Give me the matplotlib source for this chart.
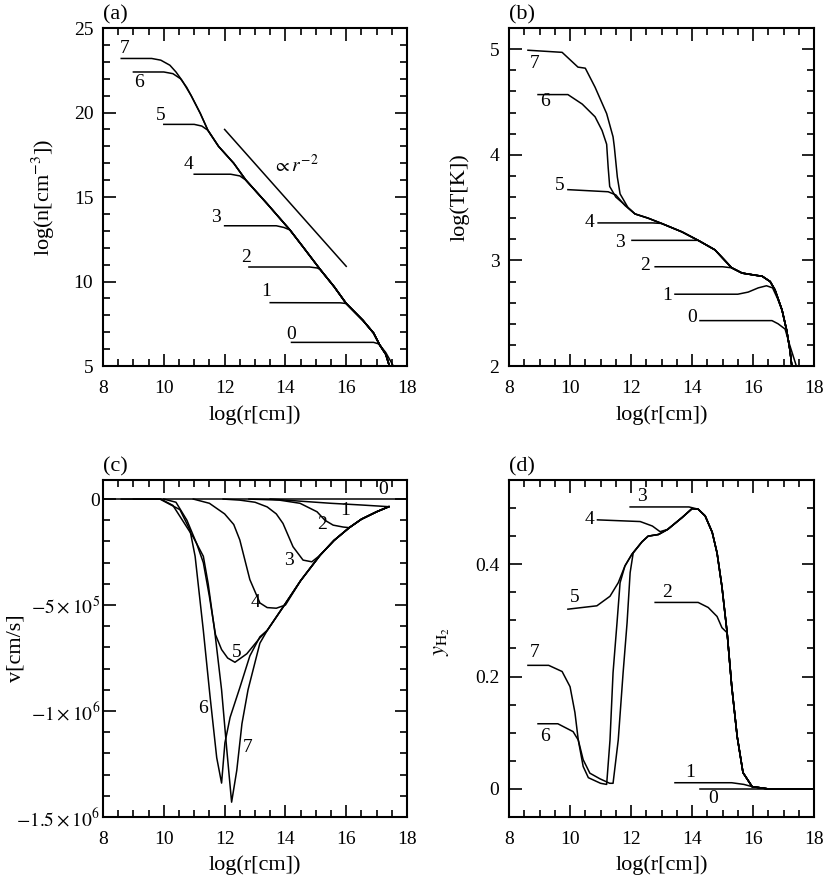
import matplotlib
matplotlib.use("Agg")
import numpy as np
import matplotlib.pyplot as plt
from matplotlib.ticker import MultipleLocator, FixedLocator, FixedFormatter

plt.rcParams["font.family"] = ["Liberation Serif", "DejaVu Serif"]
plt.rcParams["mathtext.fontset"] = "stix"

# ==================== 数据：图 (a) log n ====================
ENV_A_X = [10.6, 10.9, 11.2, 11.45, 11.8, 12.3, 12.7, 13.4, 14.15, 14.6, 15.15, 15.6, 16.0, 16.55, 16.9, 17.1, 17.3, 17.42]
ENV_A_Y = [21.9, 21.0, 19.95, 18.95, 18.0, 17.0, 16.0, 14.6, 13.05, 12.0, 10.7, 9.7, 8.7, 7.7, 6.95, 6.25, 5.7, 5.0]

A_HEAD = {
    7: ([8.6, 9.6, 9.9, 10.2, 10.4], [23.2, 23.2, 23.1, 22.8, 22.4]),
    6: ([9.0, 10.0, 10.3, 10.55, 10.75], [22.4, 22.4, 22.3, 22.0, 21.5]),
    5: ([10.0, 11.0, 11.25], [19.3, 19.3, 19.2]),
    4: ([11.0, 12.2, 12.5], [16.35, 16.35, 16.25]),
    3: ([12.0, 13.7, 13.95], [13.3, 13.3, 13.2]),
    2: ([12.8, 14.8, 15.05], [10.86, 10.86, 10.8]),
    1: ([13.5, 15.8], [8.75, 8.74]),
    0: ([14.2, 16.9, 17.05], [6.4, 6.4, 6.32]),
}
A_JOIN = {7: 10.6, 6: 10.9, 5: 11.45, 4: 12.7, 3: 14.15, 2: 15.15, 1: 16.0, 0: 17.1}
A_TAIL0 = ([17.3, 17.55], [5.8, 5.0])
REF_X = [12.0, 16.0]
REF_Y = [19.0, 10.9]
A_LABEL_POS = {7: (8.7, 23.8), 6: (9.2, 21.8), 5: (9.9, 19.85), 4: (10.8, 16.9),
               3: (11.7, 13.8), 2: (12.7, 11.4), 1: (13.35, 9.4), 0: (14.2, 6.85)}

# ==================== 数据：图 (b) log T ====================
ENV_B_X = [11.9, 12.13, 12.56, 13.0, 13.67, 14.2, 14.75, 15.3, 15.64, 16.07, 16.3, 16.56, 16.72, 16.95, 17.1, 17.21, 17.27]
ENV_B_Y = [3.5, 3.44, 3.40, 3.35, 3.27, 3.19, 3.10, 2.93, 2.88, 2.86, 2.85, 2.80, 2.72, 2.53, 2.34, 2.15, 2.0]

B_HEAD = {
    7: ([8.62, 9.74, 10.0, 10.26, 10.5, 10.82, 11.2, 11.41, 11.45, 11.55, 11.64, 11.9],
        [4.99, 4.97, 4.9, 4.83, 4.82, 4.64, 4.39, 4.17, 4.08, 3.79, 3.63, 3.5]),
    6: ([8.95, 9.93, 10.4, 10.82, 11.05, 11.2, 11.25, 11.3, 11.5, 11.9],
        [4.57, 4.57, 4.48, 4.36, 4.23, 4.1, 3.88, 3.7, 3.6, 3.5]),
    5: ([9.93, 11.25, 11.5, 11.8], [3.67, 3.65, 3.62, 3.52]),
    4: ([10.92, 12.7], [3.355, 3.355]),
    3: ([12.03, 13.9], [3.19, 3.19]),
    2: ([12.79, 15.0], [2.94, 2.94]),
    1: ([13.44, 15.5, 15.84, 16.17, 16.44, 16.64, 16.8], [2.68, 2.68, 2.70, 2.74, 2.76, 2.74, 2.64]),
    0: ([14.26, 16.62, 16.82, 17.05, 17.2, 17.42], [2.43, 2.43, 2.40, 2.35, 2.2, 2.0]),
}
B_JOIN = {7: 12.13, 6: 12.13, 5: 12.13, 4: 13.0, 3: 14.2, 2: 15.3, 1: 16.95, 0: None}
B_LABEL_POS = {7: (8.85, 4.86), 6: (9.18, 4.5), 5: (9.67, 3.71), 4: (10.65, 3.36),
               3: (11.64, 3.17), 2: (12.46, 2.95), 1: (13.2, 2.67), 0: (14.0, 2.46)}

# ==================== 数据：图 (c) v，单位 1e5 cm/s ====================
V_UNIT = 1e5
ENV_C_X = [13.16, 13.4, 13.92, 14.5, 15.14, 15.6, 16.1, 16.5, 17.0, 17.4]
ENV_C_Y = [-6.6, -6.2, -5.1, -3.85, -2.65, -1.95, -1.35, -0.95, -0.6, -0.36]

C_HEAD = {
    7: ([8.6, 9.9, 10.3, 10.97, 11.3, 11.46, 11.68, 11.9, 12.07, 12.23, 12.4, 12.57, 12.77, 13.16],
        [0, 0, -0.3, -1.8, -2.7, -4.0, -6.3, -9.0, -11.8, -14.3, -12.8, -10.6, -9.0, -6.8]),
    6: ([9.0, 9.87, 10.53, 10.86, 11.03, 11.13, 11.3, 11.52, 11.74, 11.9, 12.01, 12.18, 12.5, 12.83, 13.16],
        [0, 0, -0.5, -1.46, -2.7, -4.0, -6.2, -9.3, -12.2, -13.4, -11.5, -10.3, -8.9, -7.4, -6.5]),
    5: ([10.0, 10.4, 10.76, 11.08, 11.3, 11.5, 11.7, 11.9, 12.1, 12.34, 12.73, 13.16],
        [0, -0.15, -1.0, -2.1, -3.0, -4.6, -6.4, -7.1, -7.5, -7.7, -7.3, -6.55]),
    4: ([10.97, 11.5, 12.0, 12.3, 12.5, 12.83, 13.16, 13.4, 13.7, 14.0],
        [0, -0.2, -0.7, -1.2, -1.93, -3.8, -4.9, -5.12, -5.15, -5.0]),
    3: ([11.95, 12.5, 13.0, 13.4, 13.7, 13.92, 14.25, 14.58, 14.87, 15.14],
        [0, -0.05, -0.15, -0.37, -0.7, -1.15, -2.25, -2.88, -2.96, -2.65]),
    2: ([12.8, 13.8, 14.48, 15.04, 15.3, 15.57, 15.9], [0, -0.05, -0.2, -0.6, -1.0, -1.23, -1.32]),
    1: ([13.5, 14.5, 15.5, 16.5, 17.4], [0, -0.1, -0.2, -0.28, -0.36]),
}
C_JOIN = {7: 13.4, 6: 13.4, 5: 13.4, 4: 14.5, 3: 15.6, 2: 16.1, 1: None}
C_LABEL_POS = {7: (12.75, -11.7), 6: (11.3, -9.9), 5: (12.4, -7.25), 4: (13.0, -4.9),
               3: (14.1, -2.9), 2: (15.2, -1.2), 1: (15.95, -0.55), 0: (17.2, 0.45)}

# ==================== 数据：图 (d) y_H2 ====================
UP_D_X = [12.03, 12.36, 12.56, 12.9, 13.2, 13.67]
UP_D_Y = [0.418, 0.44, 0.45, 0.453, 0.462, 0.483]
DN_D_X = [14.0, 14.2, 14.43, 14.66, 14.82, 14.98, 15.15, 15.3, 15.48, 15.67, 15.97, 16.5, 18.0]
DN_D_Y = [0.499, 0.498, 0.486, 0.457, 0.42, 0.36, 0.278, 0.183, 0.093, 0.029, 0.004, 0.0, 0.0]

D_HEAD = {
    7: ([8.62, 9.3, 9.74, 10.0, 10.16, 10.27, 10.43, 10.65, 10.98, 11.3, 11.41, 11.58, 11.74, 11.87, 11.97, 12.07],
        [0.22, 0.22, 0.209, 0.182, 0.136, 0.087, 0.052, 0.028, 0.018, 0.01, 0.01, 0.087, 0.207, 0.296, 0.385, 0.42]),
    6: ([8.95, 9.6, 10.1, 10.27, 10.43, 10.6, 11.0, 11.2, 11.31, 11.41, 11.54, 11.64, 11.8],
        [0.116, 0.116, 0.102, 0.087, 0.04, 0.02, 0.01, 0.008, 0.087, 0.207, 0.296, 0.367, 0.397]),
    5: ([9.93, 10.88, 11.31, 11.58, 11.8], [0.32, 0.326, 0.343, 0.367, 0.397]),
    4: ([10.9, 12.3, 12.7, 12.95], [0.479, 0.476, 0.468, 0.458]),
    3: ([11.97, 13.9], [0.502, 0.502]),
    2: ([12.79, 14.2, 14.53, 14.82, 14.98], [0.332, 0.332, 0.323, 0.307, 0.287]),
    1: ([13.44, 15.3, 15.7], [0.011, 0.011, 0.008]),
    0: ([14.26, 18.0], [0.0, 0.0]),
}
D_UP_JOIN = {7: 12.36, 6: 12.03, 5: 12.03, 4: 13.2, 3: None, 2: None, 1: None, 0: None}
D_DN_JOIN = {7: 14.0, 6: 14.0, 5: 14.0, 4: 14.0, 3: 14.2, 2: 15.15, 1: 15.97, 0: None}
D_LABEL_POS = {7: (8.85, 0.242), 6: (9.18, 0.093), 5: (10.16, 0.34), 4: (10.65, 0.48),
               3: (12.36, 0.52), 2: (13.18, 0.35), 1: (13.93, 0.03), 0: (14.7, -0.017)}

LW = 1.1
FS = 14       # 刻度、曲线编号
FS_LAB = 16   # 坐标轴标题


def tail(xs, ys, start):
    """取公共包络线上 x>=start 的部分"""
    if start is None:
        return [], []
    out = [(x, y) for x, y in zip(xs, ys) if x >= start - 1e-9]
    return [p[0] for p in out], [p[1] for p in out]


def style_axes(ax):
    ax.set_xlim(8, 18)
    ax.xaxis.set_major_locator(MultipleLocator(2))
    ax.xaxis.set_minor_locator(MultipleLocator(0.5))
    ax.tick_params(which="both", direction="in", top=True, right=True, width=1.2, labelsize=FS)
    ax.tick_params(which="major", length=9)
    ax.tick_params(which="minor", length=5)
    ax.tick_params(axis="y", pad=7)
    ax.tick_params(axis="x", pad=10)
    for s in ax.spines.values():
        s.set_linewidth(1.5)
    ax.set_xlabel("log(r[cm])", fontsize=FS_LAB)
    ax.xaxis.set_label_coords(0.5, -0.115)


fig = plt.figure(figsize=(8.3, 8.82), dpi=100)
ax_a = fig.add_axes([0.1241, 0.585, 0.3663, 0.3832])
ax_b = fig.add_axes([0.6133, 0.585, 0.3675, 0.3832])
ax_c = fig.add_axes([0.1241, 0.0737, 0.3663, 0.3821])
ax_d = fig.add_axes([0.6133, 0.0737, 0.3675, 0.3821])

# ---------- (a) ----------
for k, (hx, hy) in A_HEAD.items():
    tx, ty = tail(ENV_A_X, ENV_A_Y, A_JOIN[k])
    xs, ys = hx + tx, hy + ty
    if k == 0:
        xs, ys = hx + tx[:-2] + A_TAIL0[0], hy + ty[:-2] + A_TAIL0[1]
    ax_a.plot(xs, ys, color="black", lw=LW)
    ax_a.text(*A_LABEL_POS[k], str(k), fontsize=FS, ha="center", va="center")
ax_a.plot(REF_X, REF_Y, color="black", lw=LW)
ax_a.text(13.6, 16.9, r"$\propto r^{-2}$", fontsize=FS, ha="left", va="center")
ax_a.set_ylim(5, 25)
ax_a.yaxis.set_major_locator(MultipleLocator(5))
ax_a.yaxis.set_minor_locator(MultipleLocator(1))
style_axes(ax_a)
ax_a.set_ylabel(r"log(n[cm$^{-3}$])", fontsize=FS_LAB)
ax_a.yaxis.set_label_coords(-0.15, 0.5)
ax_a.text(0.0, 1.01, "(a)", transform=ax_a.transAxes, fontsize=FS_LAB, ha="left", va="bottom")

# ---------- (b) ----------
for k, (hx, hy) in B_HEAD.items():
    tx, ty = tail(ENV_B_X, ENV_B_Y, B_JOIN[k])
    ax_b.plot(hx + tx, hy + ty, color="black", lw=LW)
    ax_b.text(*B_LABEL_POS[k], str(k), fontsize=FS, ha="center", va="center")
ax_b.set_ylim(2, 5.2)
ax_b.yaxis.set_major_locator(MultipleLocator(1))
ax_b.yaxis.set_minor_locator(MultipleLocator(0.2))
style_axes(ax_b)
ax_b.set_ylabel("log(T[K])", fontsize=FS_LAB)
ax_b.yaxis.set_label_coords(-0.128, 0.5)
ax_b.text(0.0, 1.01, "(b)", transform=ax_b.transAxes, fontsize=FS_LAB, ha="left", va="bottom")

# ---------- (c) ----------
ax_c.axhline(0, color="black", lw=1.1)
for k, (hx, hy) in C_HEAD.items():
    tx, ty = tail(ENV_C_X, ENV_C_Y, C_JOIN[k])
    ax_c.plot(hx + tx, np.array(hy + ty) * V_UNIT, color="black", lw=LW)
for k, (lx, ly) in C_LABEL_POS.items():
    ax_c.text(lx, ly * V_UNIT, str(k), fontsize=FS, ha="center", va="center")
ax_c.set_ylim(-1.5e6, 0.9e5)
ax_c.yaxis.set_major_locator(FixedLocator([-1.5e6, -1e6, -5e5, 0]))
ax_c.yaxis.set_major_formatter(FixedFormatter([r"$-1.5\times10^6$", r"$-1\times10^6$", r"$-5\times10^5$", "0"]))
ax_c.yaxis.set_minor_locator(MultipleLocator(1e5))
style_axes(ax_c)
ax_c.tick_params(axis="y", pad=2)
ax_c.set_ylabel("v[cm/s]", fontsize=FS_LAB)
ax_c.yaxis.set_label_coords(-0.255, 0.5)
ax_c.text(0.0, 1.01, "(c)", transform=ax_c.transAxes, fontsize=FS_LAB, ha="left", va="bottom")

# ---------- (d) ----------
for k, (hx, hy) in D_HEAD.items():
    ux, uy = tail(UP_D_X, UP_D_Y, D_UP_JOIN[k])
    dx, dy = tail(DN_D_X, DN_D_Y, D_DN_JOIN[k])
    ax_d.plot(hx + ux + dx, hy + uy + dy, color="black", lw=LW)
    ax_d.text(*D_LABEL_POS[k], str(k), fontsize=FS, ha="center", va="center")
ax_d.set_ylim(-0.05, 0.55)
ax_d.yaxis.set_major_locator(FixedLocator([0, 0.2, 0.4]))
ax_d.yaxis.set_major_formatter(FixedFormatter(["0", "0.2", "0.4"]))
ax_d.yaxis.set_minor_locator(MultipleLocator(0.05))
style_axes(ax_d)
ax_d.set_ylabel(r"$y_{\rm H_2}$", fontsize=FS_LAB)
ax_d.yaxis.set_label_coords(-0.187, 0.52)
ax_d.text(0.0, 1.01, "(d)", transform=ax_d.transAxes, fontsize=FS_LAB, ha="left", va="bottom")

fig.savefig("out.png", dpi=100)
